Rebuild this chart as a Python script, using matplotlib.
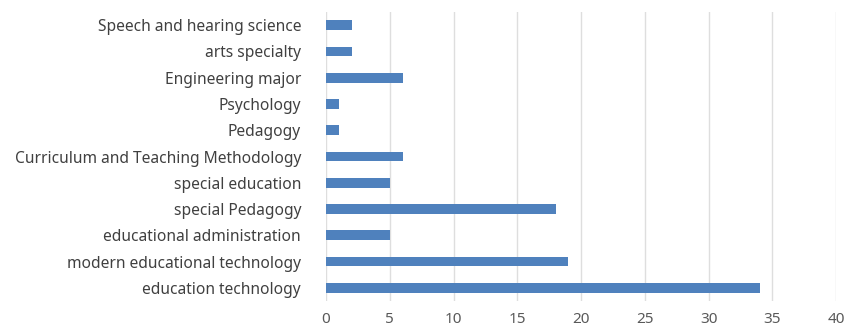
import matplotlib
matplotlib.use("Agg")
import matplotlib.pyplot as plt

categories = [
    "education technology",
    "modern educational technology",
    "educational administration",
    "special Pedagogy",
    "special education",
    "Curriculum and Teaching Methodology",
    "Pedagogy",
    "Psychology",
    "Engineering major",
    "arts specialty",
    "Speech and hearing science",
]
counts = [34, 19, 5, 18, 5, 6, 1, 1, 6, 2, 2]
x_ticks = [0, 5, 10, 15, 20, 25, 30, 35, 40]

plt.rcParams["font.family"] = ["Noto Sans", "DejaVu Sans"]

fig = plt.figure(figsize=(8.49, 3.27), dpi=100)
ax = fig.add_axes([0.384, 0.0795, 0.601, 0.8835])

ax.barh(range(len(categories)), counts, height=0.37, color="#4F81BD", zorder=3)

ax.set_xlim(0, 40)
ax.set_ylim(-0.5, len(categories) - 0.5)
ax.set_xticks(x_ticks)
ax.set_yticks(range(len(categories)))
ax.set_yticklabels(categories, fontsize=11.2, color="#404040")
ax.tick_params(axis="x", labelsize=11, labelcolor="#595959", length=0, pad=8)
ax.tick_params(axis="y", length=0, pad=18)
ax.xaxis.grid(True, color="#DEDEDE", linewidth=1, zorder=0)
for s in ax.spines.values():
    s.set_visible(False)

fig.savefig("out.png", dpi=100)
